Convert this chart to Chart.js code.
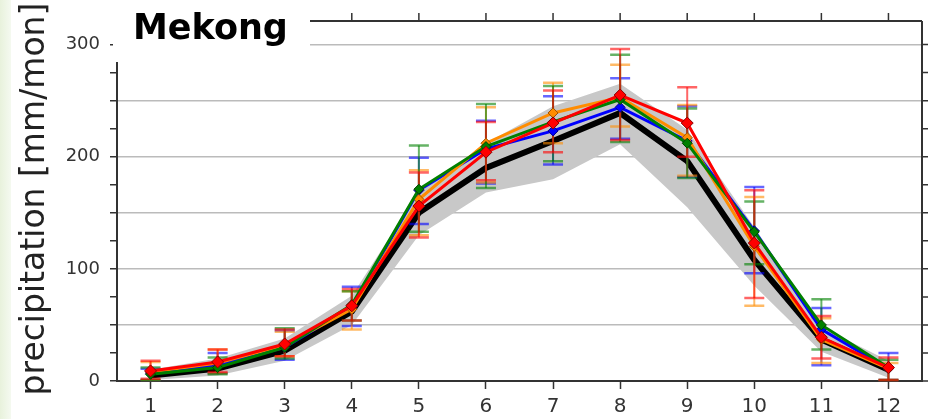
<!DOCTYPE html>
<html>
<head>
<meta charset="utf-8">
<script src="https://cdn.jsdelivr.net/npm/chart.js@4.4.1/dist/chart.umd.min.js"></script>
<style>
  html, body { margin: 0; padding: 0; background: #fff; }
  #wrap { width: 929px; height: 419px; position: relative; }
</style>
</head>
<body>
<div id="wrap"><canvas id="chart" width="929" height="419"></canvas></div>
<script>
const months = [1, 2, 3, 4, 5, 6, 7, 8, 9, 10, 11, 12];
const yTickLabels = [0, 100, 200, 300];

// observation (black) and its spread (gray band)
const obsMean = [5, 11, 27, 62, 150, 190, 214, 239, 196, 108, 37, 10];
const obsLow  = [1, 5, 18, 50, 130, 168, 180, 211, 155, 85, 26, 3];
const obsHigh = [10, 20, 38, 76, 168, 212, 245, 265, 224, 137, 48, 18];

const blueMean = [7, 14, 30, 66, 170, 207, 223, 244, 214, 134, 46, 11];
const blueLow  = [1, 7, 19, 49, 140, 176, 193, 216, 182, 96, 14, 1];
const blueHigh = [11, 25, 45, 84, 199, 232, 254, 270, 245, 173, 65, 25];

const orangeMean = [8, 16, 32, 64, 162, 212, 239, 253, 217, 120, 37, 11];
const orangeLow  = [1, 7, 22, 46, 130, 177, 212, 227, 183, 67, 16, 1];
const orangeHigh = [17, 28, 44, 80, 188, 244, 266, 282, 246, 164, 56, 16];

const greenMean = [6, 12, 30, 68, 171, 209, 231, 251, 212, 133, 50, 12];
const greenLow  = [1, 6, 20, 54, 133, 172, 196, 213, 181, 104, 28, 1];
const greenHigh = [12, 21, 47, 80, 210, 247, 263, 291, 243, 160, 73, 19];

const redMean = [9, 17, 33, 67, 156, 204, 230, 255, 230, 123, 39, 12];
const redLow  = [2, 8, 22, 54, 128, 179, 204, 215, 200, 74, 20, 1];
const redHigh = [18, 28, 46, 82, 186, 231, 259, 296, 262, 170, 58, 21];

const toXY = vals => vals.map((v, i) => ({ x: months[i], y: v }));

const errorSeries = [
  { low: blueLow, high: blueHigh, color: 'rgba(0,0,255,0.6)' },
  { low: orangeLow, high: orangeHigh, color: 'rgba(255,140,0,0.6)' },
  { low: greenLow, high: greenHigh, color: 'rgba(0,128,0,0.6)' },
  { low: redLow, high: redHigh, color: 'rgba(255,0,0,0.6)' }
];

const OBS_INDEX = 2;

function drawErrorBars(chart) {
  const { ctx, scales } = chart;
  const x = scales.x, y = scales.y;
  ctx.save();
  errorSeries.forEach(s => {
    ctx.strokeStyle = s.color;
    months.forEach((m, i) => {
      const px = x.getPixelForValue(m);
      const lo = y.getPixelForValue(s.low[i]);
      const hi = y.getPixelForValue(s.high[i]);
      ctx.lineWidth = 2;
      ctx.beginPath();
      ctx.moveTo(px, lo);
      ctx.lineTo(px, hi);
      ctx.stroke();
      ctx.lineWidth = 2.5;
      ctx.beginPath();
      ctx.moveTo(px - 10, lo); ctx.lineTo(px + 10, lo);
      ctx.moveTo(px - 10, hi); ctx.lineTo(px + 10, hi);
      ctx.stroke();
    });
  });
  ctx.restore();
}

const framePlugin = {
  id: 'frame',
  beforeDraw(chart) {
    const ctx = chart.ctx;
    ctx.save();
    const g = ctx.createLinearGradient(0, 0, 12, 0);
    g.addColorStop(0, '#e8f2dc');
    g.addColorStop(1, '#f6faf2');
    ctx.fillStyle = g;
    ctx.fillRect(0, 0, 11, chart.height);
    ctx.restore();
  },
  afterDatasetDraw(chart, args) {
    if (args.index === OBS_INDEX) drawErrorBars(chart);
  },
  afterDraw(chart) {
    const { ctx, chartArea: a, scales } = chart;
    ctx.save();
    ctx.strokeStyle = '#333';
    ctx.lineWidth = 2;
    ctx.beginPath();
    ctx.moveTo(a.left, a.top); ctx.lineTo(a.right, a.top);
    ctx.moveTo(a.right, a.top); ctx.lineTo(a.right, a.bottom);
    ctx.stroke();
    ctx.lineWidth = 1.5;
    ctx.beginPath();
    months.forEach(m => {
      const px = scales.x.getPixelForValue(m);
      ctx.moveTo(px, a.top); ctx.lineTo(px, a.top - 8);
    });
    for (let v = 0; v <= 300; v += 25) {
      const py = scales.y.getPixelForValue(v);
      ctx.moveTo(a.right, py); ctx.lineTo(a.right + 6, py);
    }
    ctx.stroke();

    // title box
    ctx.fillStyle = '#fff';
    ctx.fillRect(113, 0, 197, 62);
    ctx.fillStyle = '#000';
    ctx.font = 'bold 35px "DejaVu Sans"';
    ctx.textBaseline = 'alphabetic';
    ctx.textAlign = 'left';
    ctx.fillText('Mekong', 133, 39);

    // y axis title
    ctx.translate(44, 199);
    ctx.rotate(-Math.PI / 2);
    ctx.fillStyle = '#222';
    ctx.font = '33px "DejaVu Sans"';
    ctx.textAlign = 'center';
    ctx.fillText('precipitation [mm/mon]', 0, 0);
    ctx.restore();
  }
};

const colored = (label, data, color, border, radius, order) => ({
  label, data: toXY(data), borderColor: color, backgroundColor: color,
  borderWidth: 3, pointStyle: 'rectRot', pointRadius: radius,
  pointBorderColor: border, pointBorderWidth: 1, pointBackgroundColor: color,
  order, tension: 0
});

new Chart(document.getElementById('chart'), {
  type: 'line',
  data: {
    datasets: [
      { label: 'low', data: toXY(obsLow), borderWidth: 0, pointRadius: 0, fill: false, order: 7, borderColor: 'rgba(0,0,0,0)' },
      { label: 'high', data: toXY(obsHigh), borderWidth: 0, pointRadius: 0, fill: '-1', backgroundColor: '#c8c8c8', borderColor: 'rgba(0,0,0,0)', order: 6 },
      { label: 'obs', data: toXY(obsMean), borderColor: '#000', borderWidth: 6, pointRadius: 0, order: 5 },
      colored('blue', blueMean, '#0000ff', '#00008b', 5, 4),
      colored('orange', orangeMean, '#ff8c00', '#a05000', 5, 3),
      colored('green', greenMean, '#008000', '#004000', 5, 2),
      colored('red', redMean, '#ff0000', '#8b0000', 6, 1)
    ]
  },
  options: {
    responsive: false,
    animation: false,
    events: [],
    layout: { padding: { top: 21, right: 4, left: 0, bottom: 0 } },
    plugins: { legend: { display: false }, tooltip: { enabled: false } },
    scales: {
      x: {
        type: 'linear', min: 0.5, max: 12.5,
        afterFit: s => { s.height = 38; },
        afterBuildTicks: s => { s.ticks = months.map(v => ({ value: v })); },
        ticks: {
          padding: 6, autoSkip: false, maxRotation: 0,
          color: '#333', font: { family: 'DejaVu Sans', size: 20 },
          callback: v => v
        },
        grid: { color: 'rgba(0,0,0,0)', drawTicks: true, tickLength: 8, tickColor: '#333', tickWidth: 1.5 },
        border: { display: true, color: '#333', width: 2 }
      },
      y: {
        min: 0, max: 321,
        afterFit: s => { s.width = 117; },
        ticks: {
          stepSize: 25, includeBounds: false, padding: 10,
          color: '#333', font: { family: 'DejaVu Sans', size: 18 },
          callback: v => yTickLabels.includes(v) ? v : ''
        },
        grid: {
          color: c => (c.tick && c.tick.value % 50 === 0 && c.tick.value !== 0) ? '#bbbbbb' : 'rgba(0,0,0,0)',
          lineWidth: 1.5, drawTicks: true, tickLength: 7, tickColor: '#333', tickWidth: 1.5
        },
        border: { display: true, color: '#333', width: 2 }
      }
    }
  },
  plugins: [framePlugin]
});
</script>
</body>
</html>
